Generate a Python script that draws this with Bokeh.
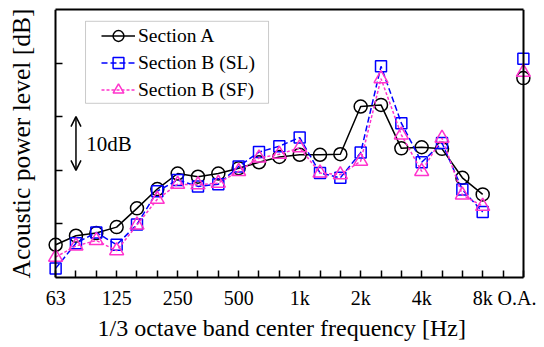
from bokeh.plotting import figure
from bokeh.models import (FixedTicker, LinearAxis, Range1d, Legend, LegendItem,
                          Arrow, OpenHead, Label, BoxAnnotation, Title)
from bokeh.embed import file_html
from bokeh.resources import INLINE

# ---- data -------------------------------------------------------------
bands = ["63", "80", "100", "125", "160", "200", "250", "315", "400", "500",
         "630", "800", "1k", "1.25k", "1.6k", "2k", "2.5k", "3.15k", "4k",
         "5k", "6.3k", "8k"]
tick_labels = {0: "63", 3: "125", 6: "250", 9: "500", 12: "1k", 15: "2k",
               18: "4k", 21: "8k", 23: "O.A."}
oa_index = 23

sec_a = [6.1, 7.8, 8.3, 9.4, 12.9, 16.5, 19.4, 18.8, 19.4, 20.4, 21.5, 22.5,
         22.9, 22.9, 23.0, 31.9, 32.2, 24.1, 24.3, 24.0, 18.6, 15.5]
sec_a_oa = 37.2
sec_b_sl = [1.7, 6.4, 8.4, 6.1, 9.9, 16.1, 18.2, 17.0, 17.4, 20.7, 23.4, 24.5,
            26.1, 19.5, 18.6, 23.3, 39.4, 28.8, 21.5, 25.1, 16.4, 12.2]
sec_b_sl_oa = 40.8
sec_b_sf = [3.8, 5.9, 6.9, 5.0, 9.8, 14.6, 17.4, 17.3, 17.6, 19.8, 22.3, 23.0,
            24.2, 19.5, 19.2, 21.7, 37.1, 26.6, 19.8, 26.0, 15.4, 13.3]
sec_b_sf_oa = 38.3

y_ticks = [10, 20, 30, 40]
scale_arrow = (20, 30)   # the "10dB" scale arrow

FONT = "Liberation Serif"
PINK = "#FF33CC"
BLUE = "#0000FF"

xs = list(range(len(bands)))

p = figure(frame_width=484, frame_height=268,
           x_range=Range1d(-0.4, 23.4), y_range=Range1d(0, 50),
           output_backend="svg", toolbar_location=None,
           min_border_left=47, min_border_right=5, min_border_top=9,
           min_border_bottom=10)
p.outline_line_color = None
p.grid.visible = False
p.background_fill_color = "white"

# x axis (line, ticks, tick labels)
xa = p.xaxis[0]
xa.bounds = (0, oa_index)
xa.ticker = FixedTicker(ticks=list(range(0, oa_index + 1)))
xa.major_label_overrides = {i: tick_labels.get(i, "") for i in range(0, oa_index + 1)}
xa.major_tick_in = 7
xa.major_tick_out = 0
xa.minor_tick_in = 0
xa.minor_tick_out = 0
xa.axis_line_width = 2
xa.major_tick_line_width = 1.5
xa.major_label_text_font = FONT
xa.major_label_text_font_size = "20px"
xa.major_label_text_color = "black"
xa.major_label_standoff = 9

# x axis title, as a panel title placed a little left of centre (as in the original)
p.add_layout(Title(text="1/3 octave band center frequency [Hz]", align="left",
                   offset=50, standoff=2, text_font=FONT,
                   text_font_size="24px", text_font_style="normal",
                   text_color="black"), "below")

# y axis: title only (line and ticks drawn by a fixed-location axis)
ya = p.yaxis[0]
ya.ticker = FixedTicker(ticks=[])
ya.axis_line_color = None
ya.major_tick_in = 0
ya.major_tick_out = 0
ya.minor_tick_in = 0
ya.minor_tick_out = 0
ya.major_label_text_font_size = "0px"
ya.major_label_standoff = 0
ya.axis_label = "Acoustic power level [dB]"
ya.axis_label_text_font = FONT
ya.axis_label_text_font_size = "25.5px"
ya.axis_label_text_font_style = "normal"
ya.axis_label_text_color = "black"
ya.axis_label_standoff = 12

ya2 = LinearAxis(fixed_location=0, bounds=(0, 50),
                 ticker=FixedTicker(ticks=y_ticks),
                 major_label_overrides={t: "" for t in y_ticks},
                 major_tick_in=7, major_tick_out=0, minor_tick_in=0,
                 minor_tick_out=0, axis_line_width=2,
                 major_tick_line_width=1.5, major_label_standoff=0,
                 major_label_text_font_size="0px")
p.add_layout(ya2, "left")

# right border
ra = LinearAxis(fixed_location=oa_index, bounds=(0, 50),
                ticker=FixedTicker(ticks=[]), major_tick_in=0, major_tick_out=0,
                minor_tick_in=0, minor_tick_out=0, axis_line_width=2,
                major_label_text_font_size="0px")
p.add_layout(ra, "right")
# top border
ta = LinearAxis(bounds=(0, oa_index), ticker=FixedTicker(ticks=[]),
                major_tick_in=0, major_tick_out=0, minor_tick_in=0,
                minor_tick_out=0, axis_line_width=2,
                major_label_text_font_size="0px")
p.add_layout(ta, "above")

# ---- series -------------------------------------------------------------
la = p.line(xs, sec_a, line_color="black", line_width=1.5)
sa = p.scatter(xs + [oa_index], sec_a + [sec_a_oa], marker="circle", size=13,
               fill_color=None, line_color="black", line_width=1.5)
lb = p.line(xs, sec_b_sl, line_color=BLUE, line_width=1.5, line_dash="6 3")
sb = p.scatter(xs + [oa_index], sec_b_sl + [sec_b_sl_oa], marker="square",
               size=11, fill_color=None, line_color=BLUE, line_width=1.5)
lc = p.line(xs, sec_b_sf, line_color=PINK, line_width=1.5, line_dash="3 2")
sc = p.scatter(xs + [oa_index], sec_b_sf + [sec_b_sf_oa], marker="triangle",
               size=14, fill_color=None, line_color=PINK, line_width=1.5)

# scale arrow
p.add_layout(Arrow(x_start=1, y_start=scale_arrow[0], x_end=1, y_end=scale_arrow[1],
                   line_width=1.5, line_color="black",
                   start=OpenHead(size=10, line_width=1.5),
                   end=OpenHead(size=10, line_width=1.5)))
p.add_layout(Label(x=1.5, y=sum(scale_arrow) / 2, text="10dB",
                   text_font=FONT, text_font_size="21px", text_color="black",
                   text_baseline="middle", text_align="left"))

# legend box
p.add_layout(BoxAnnotation(left=1.47, right=10.47, bottom=32.5, top=47.8,
                           fill_color="white", fill_alpha=1.0,
                           line_color="#505050", line_width=1,
                           editable=False))
legend = Legend(items=[LegendItem(label="Section A", renderers=[la, sa]),
                       LegendItem(label="Section B (SL)", renderers=[lb, sb]),
                       LegendItem(label="Section B (SF)", renderers=[lc, sc])],
                location=(54, 174), padding=0, spacing=0, margin=0,
                glyph_width=34, glyph_height=27, label_height=27,
                label_standoff=3, border_line_color=None,
                background_fill_alpha=0.0, label_text_color="black",
                label_text_font=FONT, label_text_font_size="19.5px")
p.add_layout(legend, "center")

open("out.html", "w").write(file_html(p, INLINE))
